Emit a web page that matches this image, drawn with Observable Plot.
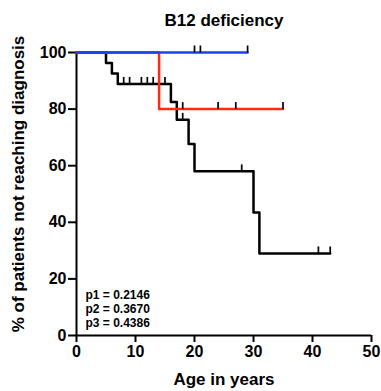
<!DOCTYPE html>
<html>
<head>
<meta charset="utf-8">
<script src="https://cdn.jsdelivr.net/npm/d3@7"></script>
<script src="https://cdn.jsdelivr.net/npm/@observablehq/plot@0.6"></script>
<style>
  html, body { margin: 0; padding: 0; background: #fff; }
  #chart svg text { font-weight: bold; }
</style>
</head>
<body>
<div id="chart"></div>
<script>
// ---- Data ----
const title = "B12 deficiency";
const xLabel = "Age in years";
const yLabel = "% of patients not reaching diagnosis";
const pValues = ["p1 = 0.2146", "p2 = 0.3670", "p3 = 0.4386"];
const xTicks = [0, 10, 20, 30, 40, 50];
const yTicks = [0, 20, 40, 60, 80, 100];

// Kaplan–Meier steps (time, % not reaching diagnosis)
const blackTimes  = [0, 5, 6, 7, 16, 17, 19, 20, 30, 31, 43];
const blackValues = [100, 96.3, 92.6, 88.9, 82.5, 76.2, 67.7, 58.0, 43.5, 29.0, 29.0];
const redTimes    = [0, 14, 35];
const redValues   = [100, 80, 80];
const blueTimes   = [0, 29];
const blueValues  = [100, 100];

// Censored observations (time, value)
const blackCensorTimes  = [8, 9, 11, 12, 13, 15, 18, 28, 41, 43];
const blackCensorValues = [88.9, 88.9, 88.9, 88.9, 88.9, 88.9, 76.2, 58.0, 29.0, 29.0];
const redCensorTimes    = [18, 24, 27, 35];
const redCensorValues   = [80, 80, 80, 80];
const blueCensorTimes   = [20, 21, 29];
const blueCensorValues  = [100, 100, 100];

const seriesColors = { black: "#000000", red: "#ff2a10", blue: "#2040f0" };

// ---- Build tables ----
const zip = (xs, ys) => xs.map((x, i) => ({ x, y: ys[i] }));
const black = zip(blackTimes, blackValues);
const red = zip(redTimes, redValues);
const blue = zip(blueTimes, blueValues);
const censors = [
  ...zip(blackCensorTimes, blackCensorValues),
  ...zip(redCensorTimes, redCensorValues),
  ...zip(blueCensorTimes, blueCensorValues)
];

const censorSymbol = {
  draw(context) {
    context.moveTo(0, 0);
    context.lineTo(0, -7);
  }
};

const chart = Plot.plot({
  width: 381,
  height: 391,
  marginLeft: 76,
  marginRight: 10,
  marginTop: 52,
  marginBottom: 56,
  style: {
    fontFamily: "'Liberation Sans', Arial, Helvetica, sans-serif",
    fontWeight: "bold",
    color: "#000",
    background: "#fff"
  },
  x: { domain: [0, 50] },
  y: { domain: [0, 100] },
  marks: [
    Plot.axisX({ ticks: xTicks, tickSize: 7, tickPadding: 3, fontSize: 16, fontWeight: "bold", strokeWidth: 2, label: null }),
    Plot.axisY({ ticks: yTicks, tickSize: 8, tickPadding: 2, fontSize: 16, fontWeight: "bold", strokeWidth: 2, label: null }),
    Plot.ruleX([0], { strokeWidth: 2 }),
    Plot.ruleY([0], { strokeWidth: 2 }),
    Plot.line(black, { x: "x", y: "y", curve: "step-after", stroke: seriesColors.black, strokeWidth: 2.5 }),
    Plot.line(red, { x: "x", y: "y", curve: "step-after", stroke: seriesColors.red, strokeWidth: 2.5 }),
    Plot.line(blue, { x: "x", y: "y", curve: "step-after", stroke: seriesColors.blue, strokeWidth: 2.5 }),
    Plot.dot(censors, { x: "x", y: "y", symbol: censorSymbol, stroke: "#000", fill: "none", strokeWidth: 1.7, r: 4 }),
    Plot.text([title], { frameAnchor: "top", lineAnchor: "middle", dy: -32, fontSize: 17, fontWeight: "bold" }),
    Plot.text([xLabel], { frameAnchor: "bottom", lineAnchor: "middle", dy: 44, fontSize: 17, fontWeight: "bold" }),
    Plot.text([yLabel], { frameAnchor: "left", textAnchor: "middle", lineAnchor: "middle", rotate: -90, dx: -58, dy: -10, fontSize: 17, fontWeight: "bold" }),
    Plot.text([pValues.join("\n")], { frameAnchor: "bottom-left", textAnchor: "start", lineAnchor: "middle", lineHeight: 1.14, dx: 9, dy: -27, fontSize: 12, fontWeight: "bold" })
  ]
});

document.getElementById("chart").appendChild(chart);
</script>
</body>
</html>
